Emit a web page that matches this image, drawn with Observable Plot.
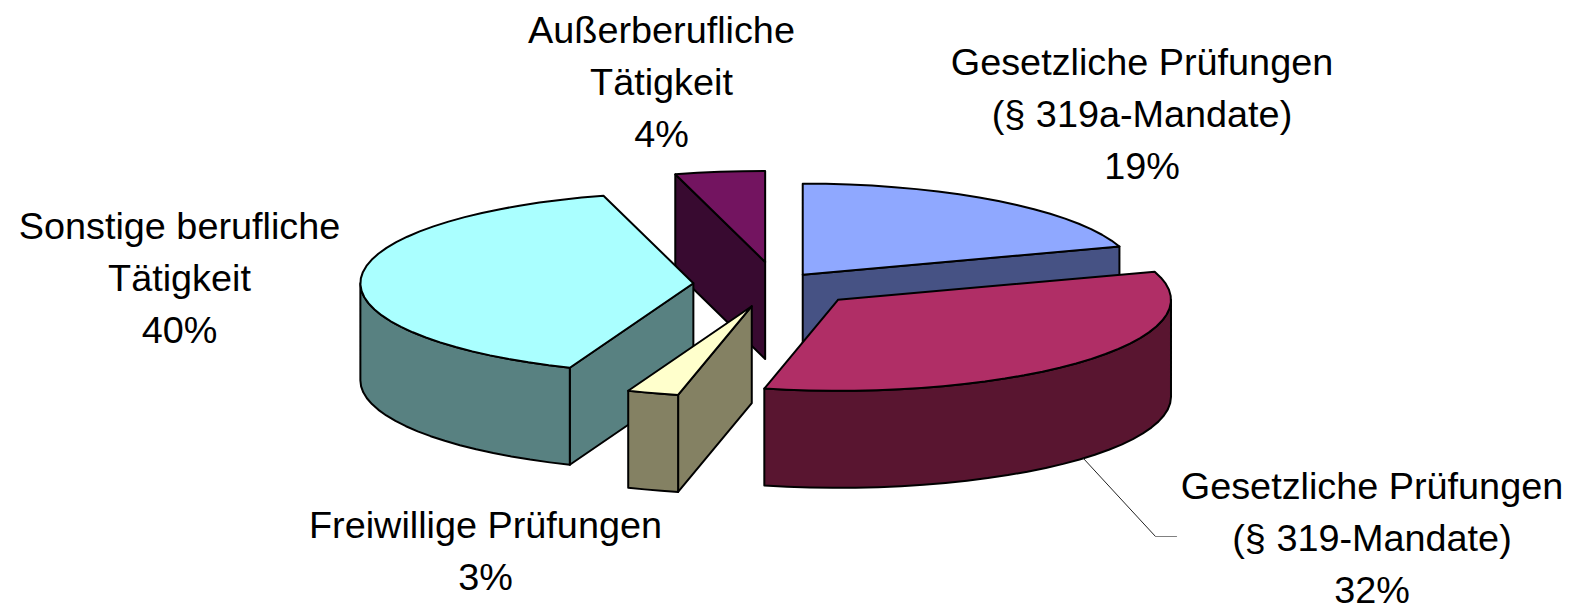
<!DOCTYPE html>
<html>
<head>
<meta charset="utf-8">
<style>html,body{margin:0;padding:0;background:#fff}svg{display:block}</style>
<script src="https://cdn.jsdelivr.net/npm/d3@7"></script>
<script src="https://cdn.jsdelivr.net/npm/@observablehq/plot@0.6"></script>
</head>
<body>
<div id="chart"></div>
<script>
// Data
const categories = ["Gesetzliche Prüfungen\n(§ 319a-Mandate)", "Gesetzliche Prüfungen\n(§ 319-Mandate)", "Freiwillige Prüfungen", "Sonstige berufliche\nTätigkeit", "Außerberufliche\nTätigkeit"];
const labelPercents = [19, 32, 3, 40, 4];
// slice sizes as drawn (share of the full circle, in %)
const drawnShares = [20, 33.55, 2.5, 39.6, 4.35];
const explosion = [0.134, 0.25, 0.25, 0.25, 0.25];

// Styles
const topColors = ["#8FA8FF", "#B02E66", "#FFFFCC", "#AAFFFF", "#731460"];
const sideColors = ["#465284", "#591530", "#848163", "#588181", "#380A30"];
const paintOrder = [4, 0, 3, 2, 1];
const labelLayout = [
  {cx: 1141.5, cy: 110}, {cx: 1371.5, cy: 534}, {cx: 485, cy: 547}, {cx: 179, cy: 273.5}, {cx: 661, cy: 78}
];

// Pie model: one unit = one radius, depth in the same y units
const W = 1573, H = 605;
const center = {x: 776, y: 284}, rx = 333, ry = 91, depth = 97 / 91;
const TAU = Math.PI * 2;

const total = d3.sum(drawnShares);
let acc = 0;
const slices = drawnShares.map((s, i) => {
  const a0 = acc / total * TAU;
  acc += s;
  const a1 = acc / total * TAU;
  const m = (a0 + a1) / 2;
  return {i, a0, a1, ox: explosion[i] * Math.sin(m), oy: explosion[i] * Math.cos(m)};
});

const rows = [];
let polyId = 0;
function addPoly(points, color) {
  const id = polyId++;
  [...points, points[0]].forEach(([x, y]) => rows.push({id, x, y, color}));
}
function arc(s, a0, a1, dy = 0) {
  const n = Math.max(2, Math.ceil((a1 - a0) / (TAU / 90)));
  return d3.range(n + 1).map(k => {
    const a = a0 + (a1 - a0) * k / n;
    return [s.ox + Math.sin(a), s.oy + Math.cos(a) + dy];
  });
}
for (const i of paintOrder) {
  const s = slices[i];
  const apex = [s.ox, s.oy];
  const apexLow = [s.ox, s.oy - depth];
  const rim = a => [s.ox + Math.sin(a), s.oy + Math.cos(a)];
  const low = a => [s.ox + Math.sin(a), s.oy + Math.cos(a) - depth];
  // cut faces
  if (Math.sin(s.a0) < -1e-6) addPoly([apex, rim(s.a0), low(s.a0), apexLow], sideColors[i]);
  if (Math.sin(s.a1) > 1e-6) addPoly([apex, rim(s.a1), low(s.a1), apexLow], sideColors[i]);
  // outer wall (front half only)
  const w0 = Math.max(s.a0, Math.PI / 2), w1 = Math.min(s.a1, Math.PI * 1.5);
  if (w1 > w0) addPoly([...arc(s, w0, w1), ...arc(s, w0, w1, -depth).reverse()], sideColors[i]);
  // top face
  addPoly([apex, ...arc(s, s.a0, s.a1)], topColors[i]);
}

// leader line of the 32% label, attached to the wall of its slice
const toU = (px, py) => ({x: (px - center.x) / rx, y: (center.y - py) / ry});
const leaderDark = [toU(1083, 458), toU(1155, 536)];
const leaderGrey = [toU(1155, 536), toU(1176, 536)];

const labelMarks = categories.map((name, i) => Plot.text(
  [`${name}\n${labelPercents[i]}%`],
  {
    text: d => d,
    frameAnchor: "top-left",
    dx: labelLayout[i].cx,
    dy: labelLayout[i].cy,
    textAnchor: "middle",
    lineAnchor: "middle",
    lineHeight: 1.38,
    fontSize: 37.8,
    fontFamily: "Liberation Sans, Arial, sans-serif",
    fill: "#000"
  }
));

const plot = Plot.plot({
  width: W, height: H,
  margin: 0,
  style: {background: "#fff", overflow: "visible"},
  x: {domain: [-1, 1], range: [center.x - rx, center.x + rx], axis: null},
  y: {domain: [-1, 1], range: [center.y + ry, center.y - ry], axis: null},
  color: {type: "identity"},
  marks: [
    Plot.line(rows, {x: "x", y: "y", z: "id", fill: "color", stroke: "#000", strokeWidth: 2, strokeLinejoin: "round", curve: "linear"}),
    Plot.line(leaderDark, {x: "x", y: "y", stroke: "#222", strokeWidth: 1}),
    Plot.line(leaderGrey, {x: "x", y: "y", stroke: "#808080", strokeWidth: 1.2}),
    ...labelMarks
  ]
});
document.getElementById("chart").appendChild(plot);
</script>
</body>
</html>
